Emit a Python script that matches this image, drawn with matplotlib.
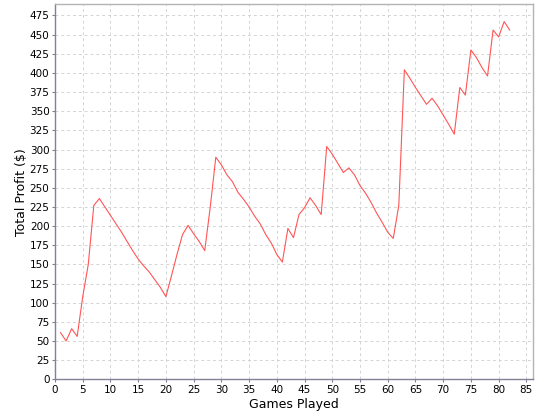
import matplotlib
matplotlib.use("Agg")
import matplotlib.pyplot as plt

# games played and running profit
games = list(range(1, 83))
profit = [61, 50, 66, 56, 108, 150, 227, 236, 225, 214,
          203, 192, 180, 168, 157, 148, 140, 130, 120, 108,
          135, 163, 189, 201, 190, 180, 168, 225, 290, 280,
          267, 258, 244, 235, 225, 213, 203, 189, 178, 163,
          153, 197, 185, 215, 224, 237, 227, 215, 304, 294,
          282, 270, 276, 267, 253, 243, 231, 217, 205, 192,
          184, 227, 404, 393, 381, 370, 359, 367, 357, 345,
          333, 320, 381, 371, 430, 420, 407, 396, 456, 447,
          467, 456]

x_ticks = list(range(0, 90, 5))
y_ticks = list(range(0, 500, 25))

fig = plt.figure(figsize=(5.4, 4.2), dpi=100)
ax = fig.add_axes([55 / 540, 1 - 379.3 / 420, (533 - 55) / 540, (379.3 - 4) / 420])

ax.plot(games, profit, color="#ff5555", lw=0.8)

ax.set_xlim(0, 86.2)
ax.set_ylim(0, 490)
ax.set_xticks(x_ticks)
ax.set_yticks(y_ticks)
ax.grid(True, color="#d4d4d4", linestyle=(0, (3, 3)), lw=0.7)
ax.set_axisbelow(True)

for side in ("left", "bottom"):
    ax.spines[side].set_color("#808098")
    ax.spines[side].set_linewidth(1.0)
for side in ("top", "right"):
    ax.spines[side].set_color("#b4b4b4")
    ax.spines[side].set_linewidth(1.0)

ax.tick_params(axis="both", labelsize=7.5, length=2, width=0.8,
               color="#808098", pad=2)
ax.set_xlabel("Games Played", fontsize=9, labelpad=2)
ax.set_ylabel("Total Profit ($)", fontsize=9, labelpad=1)

fig.savefig("out.png", dpi=100)
